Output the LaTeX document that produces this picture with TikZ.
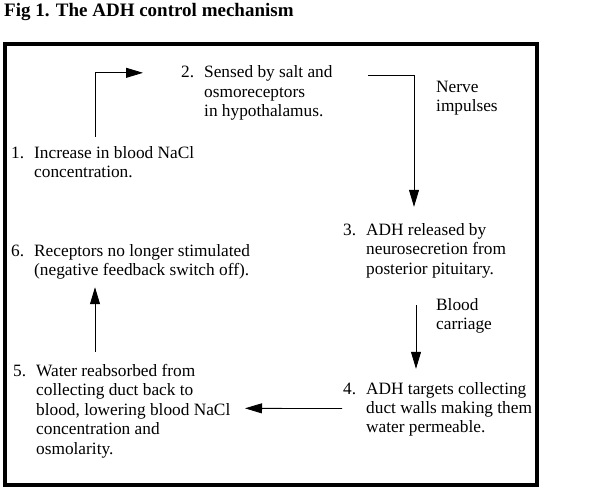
\documentclass[tikz,border=0pt]{standalone}
\usepackage{fontspec}
\setmainfont{Liberation Serif}
\newfontfamily\stageface{Liberation Serif}
\usetikzlibrary{arrows.meta}

\newcommand{\stagefont}{\stageface\fontsize{17.3}{19.4}\selectfont}
\newcommand{\stagebox}[2]{\begin{tabular}[t]{@{}p{23pt}@{}l@{}}#1 & #2\end{tabular}}

\begin{document}
\begin{tikzpicture}[x=1pt,y=-1pt,>={Triangle[length=17pt,width=10pt]}]
            \tikzstyle{every node} = [inner sep=0pt,anchor=base west,font=\stagefont];
            \tikzstyle{flow} = [->,line width=0.8pt];
            \useasboundingbox (0,0) rectangle (594,500);
            \node[font=\stageface\fontsize{19}{21}\selectfont\bfseries] (title) at (4,17) {Fig 1. The ADH control mechanism};
            \draw[line width=3.6pt] (5,44) rectangle (537,485);
            \node (s1) at (11,158.5) {\stagebox{1.}{Increase in blood NaCl\\ & concentration.}};
            \node (s2) at (181,78) {\stagebox{2.}{Sensed by salt and\\ & osmoreceptors\\ & in hypothalamus.}};
            \node (s3) at (343,235.5) {\stagebox{3.}{ADH released by\\ & neurosecretion from\\ & posterior pituitary.}};
            \node (s4) at (343,394) {\stagebox{4.}{ADH targets collecting\\ & duct walls making them\\ & water permeable.}};
            \node (s5) at (13,376.5) {\stagebox{5.}{Water reabsorbed from\\ & collecting duct back to\\ & blood, lowering blood NaCl\\ & concentration and\\ & osmolarity.}};
            \node (s6) at (11,256.5) {\stagebox{6.}{Receptors no longer stimulated\\ & (negative feedback switch off).}};
            \node[align=left] (nerve) at (436,111.5) {Nerve\\impulses};
            \node[align=left] (blood) at (436,329.5) {Blood\\carriage};
            \draw[flow] ([xshift=84pt,yshift=8pt]s1.north west) |- ([xshift=-38pt,yshift=-8.6pt]s2.north west);
            \draw[flow] ([xshift=187pt,yshift=-11.6pt]s2.north west) -| ([xshift=71pt,yshift=14.9pt]s3.north west);
            \draw[flow] ([xshift=73pt,yshift=-24.9pt]s3.south west) -- ([xshift=73pt,yshift=11.4pt]s4.north west);
            \draw[flow] ([xshift=-1pt,yshift=1pt]s4.west) -- ([xshift=232pt,yshift=-45.6pt]s5.north west);
            \draw[flow] ([xshift=82pt,yshift=10.9pt]s5.north west) -- ([xshift=84pt,yshift=-5.3pt]s6.south west);
        \end{tikzpicture}
\end{document}
